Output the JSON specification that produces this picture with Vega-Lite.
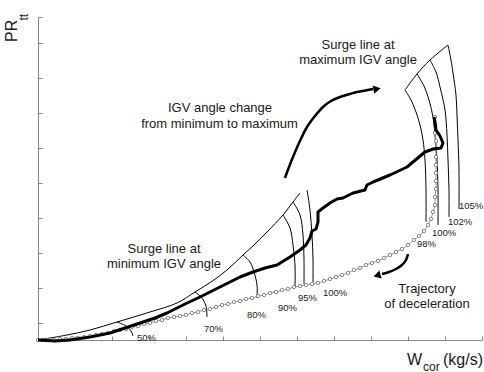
{
 "$schema": "https://vega.github.io/schema/vega-lite/v6.json",
 "width": 444, "height": 323,
 "autosize": {"type": "none"},
 "padding": {"left": 38, "top": 17, "right": 2, "bottom": 32},
 "background": "white",
 "config": {"view": {"stroke": null}, "font": "Liberation Sans"},
 "datasets": {
  "lines": [
   {"s":"surgeMin","i":0,"x":0,"y":0},{"s":"surgeMin","i":1,"x":29,"y":5},{"s":"surgeMin","i":2,"x":52,"y":10},{"s":"surgeMin","i":3,"x":79,"y":18},{"s":"surgeMin","i":4,"x":112,"y":28},{"s":"surgeMin","i":5,"x":139,"y":37},{"s":"surgeMin","i":6,"x":157,"y":48},{"s":"surgeMin","i":7,"x":173,"y":58},{"s":"surgeMin","i":8,"x":189,"y":70},{"s":"surgeMin","i":9,"x":205,"y":85},{"s":"surgeMin","i":10,"x":217,"y":96},{"s":"surgeMin","i":11,"x":229,"y":108},{"s":"surgeMin","i":12,"x":245,"y":125},{"s":"surgeMin","i":13,"x":255,"y":138},{"s":"surgeMin","i":14,"x":262,"y":147},
   {"s":"s50","i":0,"x":79,"y":18},{"s":"s50","i":1,"x":88,"y":14},{"s":"s50","i":2,"x":93,"y":9},{"s":"s50","i":3,"x":95,"y":4},
   {"s":"s70","i":0,"x":157,"y":48},{"s":"s70","i":1,"x":164,"y":42},{"s":"s70","i":2,"x":168,"y":34},{"s":"s70","i":3,"x":169,"y":23},
   {"s":"s80","i":0,"x":205,"y":85},{"s":"s80","i":1,"x":212,"y":78},{"s":"s80","i":2,"x":216,"y":68},{"s":"s80","i":3,"x":219,"y":55},{"s":"s80","i":4,"x":219,"y":42},
   {"s":"s90","i":0,"x":245,"y":125},{"s":"s90","i":1,"x":252,"y":112},{"s":"s90","i":2,"x":255,"y":95},{"s":"s90","i":3,"x":257,"y":75},{"s":"s90","i":4,"x":257,"y":53},
   {"s":"s95","i":0,"x":255,"y":138},{"s":"s95","i":1,"x":262,"y":125},{"s":"s95","i":2,"x":265,"y":105},{"s":"s95","i":3,"x":266,"y":80},{"s":"s95","i":4,"x":266,"y":56},
   {"s":"s100","i":0,"x":269,"y":150},{"s":"s100","i":1,"x":272,"y":130},{"s":"s100","i":2,"x":274,"y":105},{"s":"s100","i":3,"x":275,"y":80},{"s":"s100","i":4,"x":275,"y":58},
   {"s":"surgeMax","i":0,"x":367,"y":250},{"s":"surgeMax","i":1,"x":379,"y":266},{"s":"surgeMax","i":2,"x":392,"y":280},{"s":"surgeMax","i":3,"x":410,"y":295},
   {"s":"m98","i":0,"x":367,"y":250},{"s":"m98","i":1,"x":373,"y":240},{"s":"m98","i":2,"x":378,"y":228},{"s":"m98","i":3,"x":382,"y":215},{"s":"m98","i":4,"x":385,"y":200},{"s":"m98","i":5,"x":387,"y":180},{"s":"m98","i":6,"x":388,"y":150},{"s":"m98","i":7,"x":388,"y":118},
   {"s":"m100","i":0,"x":379,"y":266},{"s":"m100","i":1,"x":386,"y":254},{"s":"m100","i":2,"x":391,"y":240},{"s":"m100","i":3,"x":395,"y":223},{"s":"m100","i":4,"x":397,"y":205},{"s":"m100","i":5,"x":399,"y":180},{"s":"m100","i":6,"x":400,"y":150},{"s":"m100","i":7,"x":400,"y":115},
   {"s":"m102","i":0,"x":392,"y":280},{"s":"m102","i":1,"x":398,"y":268},{"s":"m102","i":2,"x":402,"y":253},{"s":"m102","i":3,"x":407,"y":230},{"s":"m102","i":4,"x":409,"y":205},{"s":"m102","i":5,"x":410,"y":180},{"s":"m102","i":6,"x":411,"y":150},{"s":"m102","i":7,"x":411,"y":123},
   {"s":"m105","i":0,"x":410,"y":295},{"s":"m105","i":1,"x":413,"y":280},{"s":"m105","i":2,"x":415,"y":267},{"s":"m105","i":3,"x":418,"y":245},{"s":"m105","i":4,"x":419,"y":225},{"s":"m105","i":5,"x":420,"y":200},{"s":"m105","i":6,"x":421,"y":170},{"s":"m105","i":7,"x":421,"y":131},
   {"s":"thick","i":0,"x":0,"y":0},{"s":"thick","i":1,"x":17,"y":-1},{"s":"thick","i":2,"x":32,"y":0},{"s":"thick","i":3,"x":52,"y":3},{"s":"thick","i":4,"x":72,"y":7},{"s":"thick","i":5,"x":87,"y":12},{"s":"thick","i":6,"x":102,"y":17},{"s":"thick","i":7,"x":117,"y":22},{"s":"thick","i":8,"x":129,"y":27},{"s":"thick","i":9,"x":147,"y":36},{"s":"thick","i":10,"x":162,"y":43},{"s":"thick","i":11,"x":182,"y":53},{"s":"thick","i":12,"x":202,"y":63},{"s":"thick","i":13,"x":215,"y":68},{"s":"thick","i":14,"x":227,"y":72},{"s":"thick","i":15,"x":239,"y":75},{"s":"thick","i":16,"x":252,"y":83},{"s":"thick","i":17,"x":262,"y":90},{"s":"thick","i":18,"x":268,"y":95},{"s":"thick","i":19,"x":272,"y":102},{"s":"thick","i":20,"x":274,"y":109},{"s":"thick","i":21,"x":278,"y":111},{"s":"thick","i":22,"x":280,"y":118},{"s":"thick","i":23,"x":280,"y":128},{"s":"thick","i":24,"x":285,"y":132},{"s":"thick","i":25,"x":292,"y":137},{"s":"thick","i":26,"x":299,"y":141},{"s":"thick","i":27,"x":305,"y":142},{"s":"thick","i":28,"x":315,"y":147},{"s":"thick","i":29,"x":327,"y":150},{"s":"thick","i":30,"x":329,"y":155},{"s":"thick","i":31,"x":335,"y":158},{"s":"thick","i":32,"x":352,"y":165},{"s":"thick","i":33,"x":369,"y":173},{"s":"thick","i":34,"x":387,"y":188},{"s":"thick","i":35,"x":395,"y":191},{"s":"thick","i":36,"x":403,"y":192},{"s":"thick","i":37,"x":405,"y":197},{"s":"thick","i":38,"x":402,"y":204},{"s":"thick","i":39,"x":398,"y":210},{"s":"thick","i":40,"x":397,"y":218},{"s":"thick","i":41,"x":396,"y":223},
   {"s":"decel","i":0,"x":397,"y":223},{"s":"decel","i":1,"x":397,"y":215},{"s":"decel","i":2,"x":397,"y":207},{"s":"decel","i":3,"x":398,"y":199},{"s":"decel","i":4,"x":398,"y":191},{"s":"decel","i":5,"x":398,"y":183},{"s":"decel","i":6,"x":398,"y":175},{"s":"decel","i":7,"x":398,"y":167},{"s":"decel","i":8,"x":398,"y":159},{"s":"decel","i":9,"x":398,"y":151},{"s":"decel","i":10,"x":397,"y":143},{"s":"decel","i":11,"x":397,"y":135},{"s":"decel","i":12,"x":395,"y":128},{"s":"decel","i":13,"x":393,"y":121},{"s":"decel","i":14,"x":390,"y":115},{"s":"decel","i":15,"x":386,"y":109},{"s":"decel","i":16,"x":381,"y":104},{"s":"decel","i":17,"x":376,"y":100},{"s":"decel","i":18,"x":370,"y":95},{"s":"decel","i":19,"x":364,"y":91},{"s":"decel","i":20,"x":358,"y":88},{"s":"decel","i":21,"x":352,"y":85},{"s":"decel","i":22,"x":346,"y":82},{"s":"decel","i":23,"x":340,"y":79},{"s":"decel","i":24,"x":334,"y":77},{"s":"decel","i":25,"x":328,"y":75},{"s":"decel","i":26,"x":322,"y":72},{"s":"decel","i":27,"x":316,"y":70},{"s":"decel","i":28,"x":310,"y":67},{"s":"decel","i":29,"x":304,"y":65},{"s":"decel","i":30,"x":298,"y":63},{"s":"decel","i":31,"x":292,"y":61},{"s":"decel","i":32,"x":286,"y":59},{"s":"decel","i":33,"x":280,"y":57},{"s":"decel","i":34,"x":274,"y":56},{"s":"decel","i":35,"x":268,"y":55},{"s":"decel","i":36,"x":262,"y":54},{"s":"decel","i":37,"x":256,"y":53},{"s":"decel","i":38,"x":250,"y":51},{"s":"decel","i":39,"x":244,"y":50},{"s":"decel","i":40,"x":238,"y":48},{"s":"decel","i":41,"x":232,"y":47},{"s":"decel","i":42,"x":226,"y":45},{"s":"decel","i":43,"x":220,"y":44},{"s":"decel","i":44,"x":214,"y":42},{"s":"decel","i":45,"x":208,"y":41},{"s":"decel","i":46,"x":202,"y":39},{"s":"decel","i":47,"x":196,"y":38},{"s":"decel","i":48,"x":190,"y":36},{"s":"decel","i":49,"x":184,"y":35},{"s":"decel","i":50,"x":178,"y":33},{"s":"decel","i":51,"x":172,"y":31},{"s":"decel","i":52,"x":166,"y":30},{"s":"decel","i":53,"x":160,"y":28},{"s":"decel","i":54,"x":154,"y":27},{"s":"decel","i":55,"x":148,"y":25},{"s":"decel","i":56,"x":142,"y":24},{"s":"decel","i":57,"x":136,"y":23},{"s":"decel","i":58,"x":130,"y":22},{"s":"decel","i":59,"x":124,"y":20},{"s":"decel","i":60,"x":118,"y":19},{"s":"decel","i":61,"x":112,"y":17},{"s":"decel","i":62,"x":106,"y":16},{"s":"decel","i":63,"x":100,"y":14},{"s":"decel","i":64,"x":94,"y":13},{"s":"decel","i":65,"x":88,"y":11},{"s":"decel","i":66,"x":82,"y":10},{"s":"decel","i":67,"x":76,"y":9},{"s":"decel","i":68,"x":70,"y":7},{"s":"decel","i":69,"x":64,"y":6},{"s":"decel","i":70,"x":58,"y":5},{"s":"decel","i":71,"x":52,"y":4},{"s":"decel","i":72,"x":46,"y":3},{"s":"decel","i":73,"x":40,"y":2},{"s":"decel","i":74,"x":34,"y":2},{"s":"decel","i":75,"x":28,"y":1},{"s":"decel","i":76,"x":22,"y":1},{"s":"decel","i":77,"x":16,"y":0},{"s":"decel","i":78,"x":10,"y":0},{"s":"decel","i":79,"x":4,"y":0},{"s":"decel","i":80,"x":0,"y":0},
   {"s":"arrow1","i":0,"x":247,"y":162},{"s":"arrow1","i":1,"x":251,"y":173},{"s":"arrow1","i":2,"x":255,"y":183},{"s":"arrow1","i":3,"x":261,"y":197},{"s":"arrow1","i":4,"x":269,"y":213},{"s":"arrow1","i":5,"x":277,"y":224},{"s":"arrow1","i":6,"x":285,"y":233},{"s":"arrow1","i":7,"x":293,"y":239},{"s":"arrow1","i":8,"x":302,"y":243},{"s":"arrow1","i":9,"x":312,"y":246},{"s":"arrow1","i":10,"x":319,"y":248},{"s":"arrow1","i":11,"x":330,"y":250},{"s":"arrow1","i":12,"x":335,"y":251},
   {"s":"arrow2","i":0,"x":370,"y":86},{"s":"arrow2","i":1,"x":368,"y":80},{"s":"arrow2","i":2,"x":364,"y":75},{"s":"arrow2","i":3,"x":358,"y":71},{"s":"arrow2","i":4,"x":351,"y":68},{"s":"arrow2","i":5,"x":344,"y":66}
  ],
  "heads": [
   {"x":339,"y":251,"shape":"triangle-right","a":349},
   {"x":339,"y":64.5,"shape":"triangle-left","a":344}
  ],
  "notes": [
   {"x":320,"y":290.7,"t":"Surge line at"},
   {"x":320,"y":275.7,"t":"maximum IGV angle"},
   {"x":182,"y":228,"t":"IGV angle change"},
   {"x":181.5,"y":212.5,"t":"from minimum to maximum"},
   {"x":126,"y":87.5,"t":"Surge line at"},
   {"x":126,"y":72.5,"t":"minimum IGV angle"},
   {"x":389,"y":47.5,"t":"Trajectory"},
   {"x":389,"y":32.5,"t":"of deceleration"}
  ],
  "labels": [
   {"x":99,"y":-0.5,"t":"50%","fs":9.5,"ang":0},
   {"x":166,"y":8.5,"t":"70%","fs":9.5,"ang":0},
   {"x":209,"y":22.5,"t":"80%","fs":9.5,"ang":0},
   {"x":240,"y":29.5,"t":"90%","fs":9.5,"ang":0},
   {"x":260,"y":39,"t":"95%","fs":9.5,"ang":0},
   {"x":285,"y":44,"t":"100%","fs":9.5,"ang":0},
   {"x":379,"y":93,"t":"98%","fs":9.5,"ang":0},
   {"x":394,"y":104,"t":"100%","fs":9.5,"ang":0},
   {"x":410,"y":115,"t":"102%","fs":9.5,"ang":0},
   {"x":421,"y":131,"t":"105%","fs":9.5,"ang":0},
   {"x":-21,"y":298,"t":"PR","fs":16,"ang":270},
   {"x":-10,"y":319.5,"t":"tt","fs":12,"ang":270},
   {"x":369,"y":-25,"t":"W","fs":16,"ang":0},
   {"x":385,"y":-30.5,"t":"cor","fs":12,"ang":0},
   {"x":405,"y":-25,"t":"(kg/s)","fs":16,"ang":0}
  ]
 },
 "encoding": {
  "x": {"field": "x", "type": "quantitative",
        "scale": {"domain": [0, 444], "nice": false, "zero": false},
        "axis": {"values": [0,37,74,111,148,185,222,259,296,333,370,407,444], "labels": false, "title": null, "grid": false, "tickSize": -4, "domainColor": "#868686", "tickColor": "#868686"}},
  "y": {"field": "y", "type": "quantitative",
        "scale": {"domain": [0, 323], "nice": false, "zero": false},
        "axis": {"values": [17,52,87,122,157,192,227,262,297,323], "labels": false, "title": null, "grid": false, "tickSize": -4, "domainColor": "#868686", "tickColor": "#868686"}}
 },
 "layer": [
  {"data": {"name": "lines"},
   "transform": [{"filter": {"field": "s", "oneOf": ["surgeMin","s50","s70","s80","s90","s95","s100","surgeMax","m98","m100","m102","m105"]}}],
   "mark": {"type": "line", "color": "black", "strokeWidth": 1, "interpolate": "catmull-rom"},
   "encoding": {"detail": {"field": "s"}, "order": {"field": "i"}}},
  {"data": {"name": "lines"},
   "transform": [{"filter": "datum.s == 'decel'"}],
   "mark": {"type": "line", "color": "#8a8a8a", "strokeWidth": 0.9},
   "encoding": {"order": {"field": "i"}}},
  {"data": {"name": "lines"},
   "transform": [{"filter": "datum.s == 'decel'"}],
   "mark": {"type": "point", "shape": "circle", "size": 12, "filled": true, "fill": "white", "stroke": "#7a7a7a", "strokeWidth": 0.9, "opacity": 1},
   "encoding": {}},
  {"data": {"name": "lines"},
   "transform": [{"filter": "datum.s == 'thick'"}],
   "mark": {"type": "line", "color": "black", "strokeWidth": 3, "strokeJoin": "round"},
   "encoding": {"order": {"field": "i"}}},
  {"data": {"name": "lines"},
   "transform": [{"filter": {"field": "s", "oneOf": ["arrow1","arrow2"]}}],
   "mark": {"type": "line", "color": "black", "strokeWidth": 2.5, "interpolate": "catmull-rom"},
   "encoding": {"detail": {"field": "s"}, "order": {"field": "i"}}},
  {"data": {"name": "heads"},
   "mark": {"type": "point", "filled": true, "color": "black", "size": 70, "opacity": 1},
   "encoding": {"shape": {"field": "shape", "scale": null}, "angle": {"field": "a", "type": "quantitative", "scale": null}}},
  {"data": {"name": "notes"},
   "mark": {"type": "text", "align": "center", "baseline": "alphabetic", "fontSize": 13, "color": "#1a1a1a"},
   "encoding": {"text": {"field": "t"}}},
  {"data": {"name": "labels"},
   "mark": {"type": "text", "align": "left", "baseline": "alphabetic", "color": "#1a1a1a"},
   "encoding": {"text": {"field": "t"}, "size": {"field": "fs", "type": "quantitative", "scale": null}, "angle": {"field": "ang", "type": "quantitative", "scale": null}}}
 ]
}
